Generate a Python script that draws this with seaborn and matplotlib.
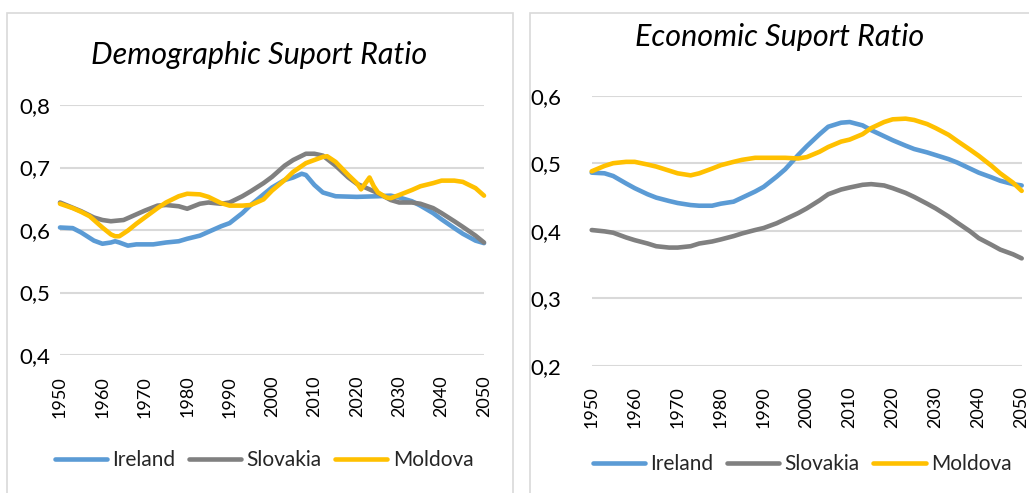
import matplotlib
matplotlib.use("Agg")
import matplotlib.pyplot as plt
import seaborn as sns
import pandas as pd
from matplotlib.patches import Rectangle
from matplotlib.lines import Line2D

# ---------------- data ----------------
countries = ["Ireland", "Slovakia", "Moldova"]
colors = ["#5B9BD5", "#808080", "#FFC000"]

demo_years_ireland = [1950, 1953, 1955, 1958, 1960, 1962, 1963, 1964, 1966, 1968,
                      1970, 1972, 1975, 1978, 1980, 1983, 1985, 1988, 1990, 1993,
                      1995, 1998, 2000, 2003, 2005, 2007, 2008, 2010, 2012, 2015,
                      2020, 2025, 2028, 2030, 2033, 2035, 2038, 2040, 2043, 2045,
                      2048, 2050]
demo_ireland = [0.604, 0.603, 0.596, 0.583, 0.578, 0.580, 0.582, 0.580, 0.575, 0.577,
                0.577, 0.577, 0.580, 0.582, 0.586, 0.591, 0.597, 0.606, 0.611, 0.627,
                0.640, 0.657, 0.668, 0.680, 0.684, 0.690, 0.688, 0.672, 0.660, 0.654,
                0.653, 0.654, 0.655, 0.652, 0.646, 0.639, 0.627, 0.617, 0.603, 0.594,
                0.583, 0.579]

demo_years_slovakia = [1950, 1955, 1958, 1960, 1962, 1965, 1967, 1970, 1973, 1975,
                       1978, 1980, 1983, 1985, 1988, 1990, 1993, 1995, 1998, 2000,
                       2003, 2005, 2008, 2010, 2012, 2015, 2018, 2020, 2022, 2025,
                       2028, 2030, 2033, 2035, 2038, 2040, 2043, 2045, 2048, 2050]
demo_slovakia = [0.644, 0.630, 0.620, 0.616, 0.614, 0.616, 0.622, 0.631, 0.639, 0.640,
                 0.638, 0.634, 0.642, 0.644, 0.642, 0.644, 0.654, 0.662, 0.675, 0.685,
                 0.703, 0.712, 0.722, 0.722, 0.719, 0.703, 0.684, 0.674, 0.668, 0.659,
                 0.648, 0.644, 0.644, 0.642, 0.635, 0.627, 0.614, 0.605, 0.591, 0.580]

demo_years_moldova = [1950, 1953, 1955, 1957, 1960, 1962, 1963, 1964, 1966, 1968,
                      1970, 1973, 1975, 1978, 1980, 1983, 1985, 1988, 1990, 1993,
                      1995, 1998, 2000, 2003, 2005, 2008, 2010, 2012, 2013, 2015,
                      2018, 2020, 2021, 2023, 2024, 2025, 2027, 2028, 2030,
                      2033, 2035, 2038, 2040, 2043, 2045, 2048, 2050]
demo_moldova = [0.642, 0.635, 0.629, 0.622, 0.604, 0.593, 0.590, 0.590, 0.599, 0.610,
                0.620, 0.635, 0.644, 0.654, 0.658, 0.657, 0.653, 0.643, 0.639, 0.639,
                0.640, 0.649, 0.663, 0.680, 0.693, 0.707, 0.712, 0.717, 0.718, 0.709,
                0.688, 0.675, 0.665, 0.684, 0.670, 0.660, 0.652, 0.651, 0.656,
                0.664, 0.670, 0.675, 0.679, 0.679, 0.677, 0.667, 0.655]

econ_years = [1950, 1953, 1955, 1958, 1960, 1963, 1965, 1968, 1970, 1973,
              1975, 1978, 1980, 1983, 1985, 1988, 1990, 1993, 1995, 1998,
              2000, 2003, 2005, 2008, 2010, 2013, 2015, 2018, 2020, 2023,
              2025, 2028, 2030, 2033, 2035, 2038, 2040, 2043, 2045, 2048, 2050]
econ_ireland = [0.486, 0.485, 0.481, 0.470, 0.463, 0.454, 0.449, 0.444, 0.441, 0.438,
                0.437, 0.437, 0.440, 0.443, 0.449, 0.458, 0.465, 0.480, 0.491, 0.512,
                0.525, 0.543, 0.554, 0.560, 0.561, 0.556, 0.549, 0.540, 0.534, 0.526,
                0.521, 0.516, 0.512, 0.506, 0.501, 0.492, 0.486, 0.479, 0.474, 0.469, 0.467]
econ_slovakia = [0.401, 0.399, 0.397, 0.390, 0.386, 0.381, 0.377, 0.375, 0.375, 0.377,
                 0.381, 0.384, 0.387, 0.392, 0.396, 0.401, 0.404, 0.411, 0.417, 0.426,
                 0.433, 0.445, 0.454, 0.461, 0.464, 0.468, 0.469, 0.467, 0.463, 0.456,
                 0.450, 0.440, 0.433, 0.421, 0.412, 0.399, 0.389, 0.379, 0.372, 0.365, 0.359]
econ_moldova = [0.488, 0.496, 0.500, 0.502, 0.502, 0.498, 0.495, 0.489, 0.485, 0.482,
                0.485, 0.492, 0.497, 0.502, 0.505, 0.508, 0.508, 0.508, 0.508, 0.507,
                0.509, 0.517, 0.524, 0.532, 0.535, 0.543, 0.552, 0.561, 0.565, 0.566,
                0.564, 0.558, 0.552, 0.542, 0.533, 0.520, 0.511, 0.496, 0.485, 0.471, 0.459]

x_ticks = [1950, 1960, 1970, 1980, 1990, 2000, 2010, 2020, 2030, 2040, 2050]
demo_yticks = [0.4, 0.5, 0.6, 0.7, 0.8]
demo_yticklabels = ["0,4", "0,5", "0,6", "0,7", "0,8"]
econ_yticks = [0.2, 0.3, 0.4, 0.5, 0.6]
econ_yticklabels = ["0,2", "0,3", "0,4", "0,5", "0,6"]
titles = ["Demographic Suport Ratio", "Economic Suport Ratio"]

# ---------------- frames ----------------
def long_df(pairs):
    rows = []
    for c, (yrs, vals) in zip(countries, pairs):
        for y, v in zip(yrs, vals):
            rows.append({"year": y, "value": v, "country": c})
    return pd.DataFrame(rows)

df_demo = long_df([(demo_years_ireland, demo_ireland),
                   (demo_years_slovakia, demo_slovakia),
                   (demo_years_moldova, demo_moldova)])
df_econ = long_df([(econ_years, econ_ireland),
                   (econ_years, econ_slovakia),
                   (econ_years, econ_moldova)])

# ---------------- plot ----------------
sns.set_theme(style="white")
plt.rcParams["font.family"] = ["Lato", "DejaVu Sans"]

W, H = 1029, 493
fig = plt.figure(figsize=(W / 100, H / 100), dpi=100)

# panel frames
fig.patches.append(Rectangle((6.5 / W, -0.05), (513 - 6.5) / W, 1.05 - 12.7 / H,
                             transform=fig.transFigure, fill=False,
                             edgecolor="#d9d9d9", lw=1.2))
fig.patches.append(Rectangle((530 / W, -0.05), 0.6, 1.05 - 12.7 / H,
                             transform=fig.transFigure, fill=False,
                             edgecolor="#d9d9d9", lw=1.2))

palette = dict(zip(countries, colors))

def make_axes(rect, df, yticks, yticklabels, ylim, ypad):
    ax = fig.add_axes(rect)
    sns.lineplot(data=df, x="year", y="value", hue="country", palette=palette,
                 linewidth=3.3, ax=ax, legend=False, sort=True)
    for ln in ax.lines:
        ln.set_clip_on(False)
        ln.set_solid_capstyle("round")
    ax.set_xlim(1950, 2050)
    ax.set_ylim(*ylim)
    ax.set_yticks(yticks)
    ax.set_yticklabels(yticklabels)
    ax.set_xticks(x_ticks)
    ax.set_xticklabels([str(t) for t in x_ticks], rotation=90)
    ax.grid(axis="y", color="#d9d9d9", linewidth=1.5)
    ax.grid(axis="x", visible=False)
    for s in ax.spines.values():
        s.set_visible(False)
    ax.tick_params(axis="y", length=0, pad=ypad, labelsize=16, labelcolor="#000000")
    ax.tick_params(axis="x", length=0, pad=15, labelsize=13, labelcolor="#000000")
    ax.set_xlabel("")
    ax.set_ylabel("")
    ax.set_axisbelow(True)
    return ax

ax1 = make_axes([60 / W, 1 - 355 / H, (484 - 60) / W, 250 / H], df_demo,
                demo_yticks, demo_yticklabels, (0.4, 0.8), 7)
ax2 = make_axes([591.7 / W, 1 - 365.7 / H, (1021.7 - 591.7) / W, 270 / H], df_econ,
                econ_yticks, econ_yticklabels, (0.2, 0.6), 22)

fig.text(259 / W, 1 - 55 / H, titles[0], ha="center", va="center",
         fontsize=22, style="italic", color="#000000")
fig.text(780 / W, 1 - 37 / H, titles[1], ha="center", va="center",
         fontsize=22, style="italic", color="#000000")

handles = [Line2D([0], [0], color=c, lw=3.3) for c in colors]
for cx, cy in [(264 / W, 1 - 460 / H), (802 / W, 1 - 464 / H)]:
    fig.legend(handles, countries, loc="center", bbox_to_anchor=(cx, cy), ncol=3,
               frameon=False, fontsize=15, handlelength=2.5, handletextpad=0.25,
               columnspacing=0.67, borderaxespad=0, borderpad=0)

fig.savefig("out.png", dpi=100)
